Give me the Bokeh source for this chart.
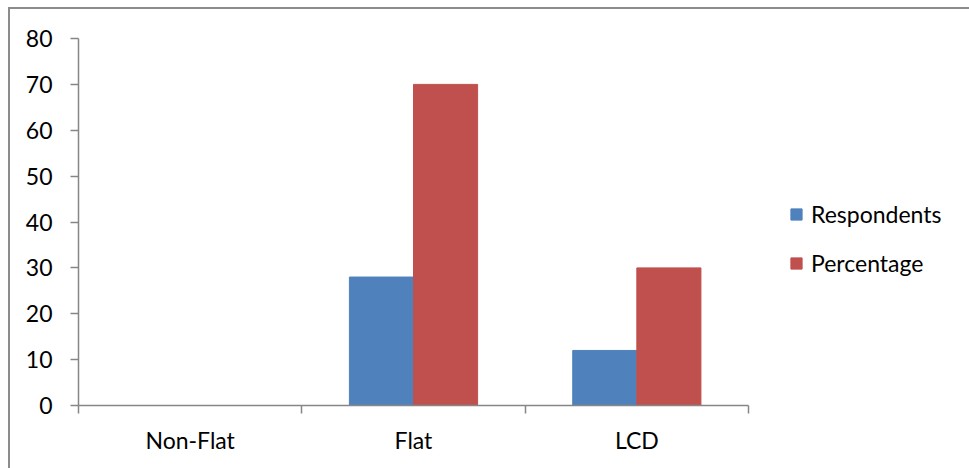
import numpy as np
from bokeh.plotting import figure
from bokeh.models import ColumnDataSource, Range1d, FixedTicker, Legend, LegendItem
from bokeh.embed import file_html
from bokeh.resources import INLINE

categories = ["Non-Flat", "Flat", "LCD"]
respondents = [0, 28, 12]
percentage = [0, 70, 30]
y_ticks = [0, 10, 20, 30, 40, 50, 60, 70, 80]

BLUE = "#4f81bd"
RED = "#c0504d"
GRAY = "#868686"
FONT = "Lato"
FS = "23px"

centers = np.arange(len(categories)) + 0.5
bw = 0.287
src = ColumnDataSource(dict(
    xb=centers - bw / 2, xr=centers + bw / 2,
    resp=respondents, pct=percentage, cat=categories))

p = figure(width=959, height=459, output_backend="svg", toolbar_location=None,
           x_range=Range1d(0, len(categories)), y_range=Range1d(0, 80),
           frame_width=670, frame_height=367,
           min_border_left=68, min_border_right=221, min_border_top=29,
           min_border_bottom=63)
p.margin = (7, 0, 0, 8)
p.styles = {"border-top": "2px solid #8c8c8c", "border-left": "2px solid #8c8c8c"}
p.outline_line_color = None
p.grid.grid_line_color = None
p.background_fill_color = "white"
p.border_fill_color = "white"

rb = p.vbar(x="xb", top="resp", width=bw, bottom=0, source=src,
            fill_color=BLUE, line_color=BLUE)
rr = p.vbar(x="xr", top="pct", width=bw, bottom=0, source=src,
            fill_color=RED, line_color=RED)

# y axis
ya = p.yaxis[0]
ya.ticker = FixedTicker(ticks=y_ticks)
ya.axis_line_color = GRAY
ya.axis_line_width = 1.5
ya.major_tick_line_color = GRAY
ya.major_tick_line_width = 1.5
ya.major_tick_out = 8
ya.major_tick_in = 0
ya.minor_tick_line_color = None
ya.major_label_standoff = 18
ya.major_label_text_font = FONT
ya.major_label_text_font_size = FS
ya.major_label_text_color = "black"

# x axis: labels at category centers, ticks at boundaries
xa = p.xaxis[0]
xa.ticker = FixedTicker(ticks=list(centers),
                        minor_ticks=list(np.arange(len(categories) + 1)))
xa.major_label_overrides = {float(c): n for c, n in zip(centers, categories)}
xa.axis_line_color = GRAY
xa.axis_line_width = 1.5
xa.major_tick_line_color = None
xa.major_tick_out = 0
xa.major_tick_in = 0
xa.minor_tick_line_color = GRAY
xa.minor_tick_line_width = 1.5
xa.minor_tick_out = 8
xa.minor_tick_in = 0
xa.major_label_standoff = 12
xa.major_label_text_font = FONT
xa.major_label_text_font_size = FS
xa.major_label_text_color = "black"

legend = Legend(items=[LegendItem(label="Respondents", renderers=[rb]),
                       LegendItem(label="Percentage", renderers=[rr])],
                location=(41, 128))
legend.border_line_color = None
legend.background_fill_alpha = 0
legend.glyph_width = 14
legend.glyph_height = 14
legend.label_standoff = 8
legend.spacing = 21
legend.padding = 0
legend.margin = 0
legend.label_text_font = FONT
legend.label_text_font_size = FS
legend.label_text_color = "black"
p.add_layout(legend, "right")

open("out.html", "w").write(file_html(p, INLINE))
